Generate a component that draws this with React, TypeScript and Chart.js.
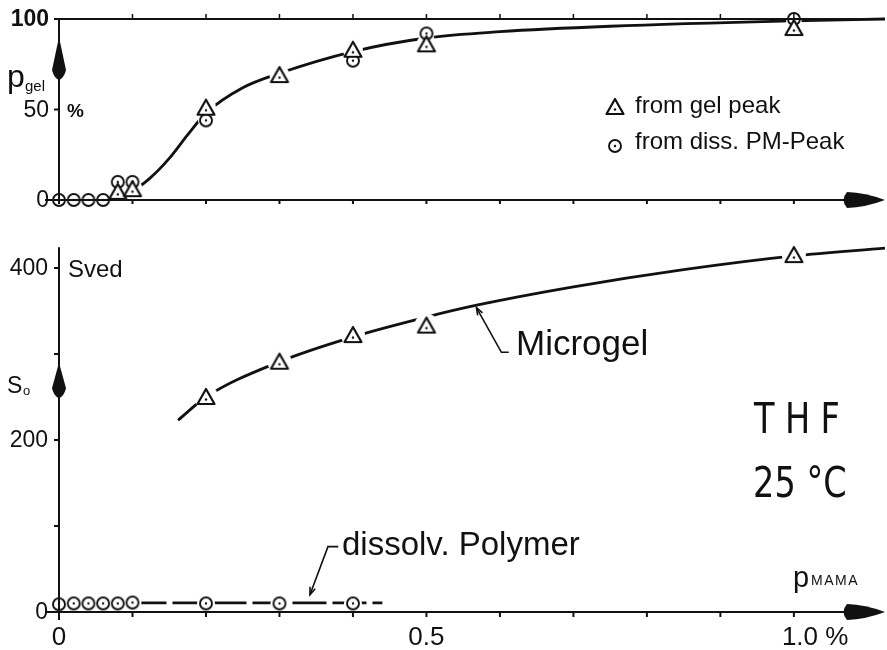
import React, { useEffect, useRef } from "react";
import { Chart, registerables } from "chart.js";
Chart.register(...registerables);

// ---- data (x = p_MAMA in %) ----
// upper panel: p_gel (%)
const gelPeakX = [0.08, 0.1, 0.2, 0.3, 0.4, 0.5, 1.0];
const gelPeakY = [4.5, 6, 51, 69, 83, 86, 95];
const pmPeakX = [0, 0.02, 0.04, 0.06, 0.08, 0.1, 0.2, 0.4, 0.5, 1.0];
const pmPeakY = [0, 0, 0, 0, 10, 10, 44, 77, 92, 100];
const gelCurveX = [0.065, 0.1, 0.125, 0.15, 0.175, 0.2, 0.25, 0.3, 0.4, 0.5, 0.6, 0.75, 1.0, 1.124];
const gelCurveY = [0, 5, 12.5, 23, 36, 48, 62, 70, 82, 89.5, 93, 96, 99, 100];

// lower panel: s_o (Sved)
const microgelX = [0.2, 0.3, 0.4, 0.5, 1.0];
const microgelY = [250, 291, 322, 333, 415];
const microgelCurveX = [0.162, 0.2, 0.3, 0.4, 0.5, 0.57, 0.7, 0.85, 1.0, 1.124];
const microgelCurveY = [223, 250, 291, 320, 343, 357, 378, 398, 414, 423];
const dissolvX = [0, 0.02, 0.04, 0.06, 0.08, 0.1, 0.2, 0.3, 0.4];
const dissolvY = [9, 10, 10, 10, 10, 11, 10, 10, 10];
const dissolvCurveX = [0.1, 0.2, 0.3, 0.4, 0.44];
const dissolvCurveY = [10.5, 10.5, 10.5, 10.5, 10.5];

// ticks
const topYTickVals = [0, 50, 100];
const topYTickLabels = ["0", "50", "100"];
const botYTickVals = [0, 200, 400];
const botYTickLabels = ["0", "200", "400"];
const botYMinorTicks = [100, 300];
const xMinorTicks = [0.1, 0.2, 0.3, 0.4, 0.5, 0.6, 0.7, 0.8, 0.9, 1.0];
const xTickVals = [0, 0.5, 1.0];
const xTickLabels = ["0", "0.5", "1.0 %"];

const FONT = '"Liberation Sans", Arial, sans-serif';
const INK = "#111";

const pts = (xs: number[], ys: number[]) => xs.map((x, i) => ({ x, y: ys[i] }));

function makeTriangle(): HTMLCanvasElement {
  const c = document.createElement("canvas");
  c.width = 24; c.height = 24;
  const g = c.getContext("2d")!;
  const cx = 12, cy = 13;
  g.beginPath();
  g.moveTo(cx, cy - 9);
  g.lineTo(cx + 8.5, cy + 6);
  g.lineTo(cx - 8.5, cy + 6);
  g.closePath();
  g.fillStyle = "#fff";
  g.fill();
  g.lineWidth = 2.2;
  g.lineJoin = "round";
  g.strokeStyle = INK;
  g.stroke();
  g.beginPath();
  g.arc(cx, cy + 1.5, 1.2, 0, Math.PI * 2);
  g.fillStyle = INK;
  g.fill();
  return c;
}
function makeCircle(): HTMLCanvasElement {
  const c = document.createElement("canvas");
  c.width = 18; c.height = 18;
  const g = c.getContext("2d")!;
  g.beginPath();
  g.arc(9, 9, 6, 0, Math.PI * 2);
  g.fillStyle = "#fff";
  g.fill();
  g.lineWidth = 1.9;
  g.strokeStyle = INK;
  g.stroke();
  g.beginPath();
  g.arc(9, 9, 1.2, 0, Math.PI * 2);
  g.fillStyle = INK;
  g.fill();
  return c;
}

// panel geometry (pixels)
const AREA_TOP = 10, AREA_BOTTOM = 612;
const TOP_ZERO_PX = 200, TOP_PX_PER_UNIT = 1.81;
const BOT_PX_PER_UNIT = 0.86;

const decor = {
  id: "decor",
  afterDatasetsDraw(chart: any) {
    const ctx: CanvasRenderingContext2D = chart.ctx;
    const xs = chart.scales.x, yt = chart.scales.yTop, yb = chart.scales.yBot;
    const X = (v: number) => xs.getPixelForValue(v);
    const YT = (v: number) => yt.getPixelForValue(v);
    const YB = (v: number) => yb.getPixelForValue(v);
    const x0 = X(0);
    const xEnd = xs.right;
    ctx.save();
    ctx.strokeStyle = INK;
    ctx.fillStyle = INK;
    ctx.lineCap = "butt";

    const line = (a: number, b: number, c: number, d: number, w = 2) => {
      ctx.lineWidth = w;
      ctx.beginPath(); ctx.moveTo(a, b); ctx.lineTo(c, d); ctx.stroke();
    };
    const arrowRight = (y: number) => {
      ctx.beginPath();
      ctx.moveTo(xEnd, y);
      ctx.quadraticCurveTo(xEnd - 20, y - 7.5, xEnd - 38, y - 8);
      ctx.quadraticCurveTo(xEnd - 45, y, xEnd - 38, y + 8);
      ctx.quadraticCurveTo(xEnd - 20, y + 7.5, xEnd, y);
      ctx.closePath();
      ctx.fill();
    };
    const arrowUp = (tip: number, base: number) => {
      ctx.beginPath();
      ctx.moveTo(x0, tip);
      ctx.lineTo(x0 + 7, base - 7);
      ctx.quadraticCurveTo(x0 + 5, base + 1, x0, base + 3);
      ctx.quadraticCurveTo(x0 - 5, base + 1, x0 - 7, base - 7);
      ctx.closePath();
      ctx.fill();
    };

    // ---- upper panel axes ----
    line(x0 - 4, YT(100), xEnd, YT(100), 2.2);
    line(x0, YT(100), x0, YT(0) + 4, 2);
    line(x0 - 14, YT(0), xEnd - 40, YT(0), 2.2);
    arrowRight(YT(0));
    arrowUp(YT(90), YT(68));
    for (const v of topYTickVals) line(x0 - 5, YT(v), x0, YT(v), 2);
    for (const v of xMinorTicks) {
      line(X(v), YT(0), X(v), YT(0) + 4, 2);
      line(X(v), YT(100), X(v), YT(100) - 5, 1.5);
    }

    // ---- lower panel axes ----
    line(x0, YB(424), x0, YB(0) + 8, 2);
    line(x0 - 14, YB(0), xEnd - 40, YB(0), 2.2);
    arrowRight(YB(0));
    arrowUp(YB(290), YB(252));
    for (const v of botYTickVals) line(x0 - 5, YB(v), x0, YB(v), 2);
    for (const v of botYMinorTicks) line(x0 - 5, YB(v), x0, YB(v), 2);
    for (const v of xMinorTicks) line(X(v), YB(0), X(v), YB(0) + 5, 2);

    // ---- tick labels ----
    ctx.textBaseline = "middle";
    ctx.textAlign = "right";
    topYTickVals.forEach((v, i) => {
      ctx.font = (v === 100 ? "bold " : "") + "23px " + FONT;
      ctx.fillText(topYTickLabels[i], x0 - 10, YT(v) + 1);
    });
    ctx.font = "23px " + FONT;
    botYTickVals.forEach((v, i) => ctx.fillText(botYTickLabels[i], x0 - 11, YB(v) + 1));
    ctx.textAlign = "center";
    ctx.font = "26px " + FONT;
    xTickVals.forEach((v, i) => {
      const lbl = xTickLabels[i];
      if (lbl.indexOf("%") >= 0) {
        ctx.textAlign = "left";
        ctx.fillText(lbl, X(v) - 12, YB(0) + 26);
        ctx.textAlign = "center";
      } else ctx.fillText(lbl, X(v), YB(0) + 26);
    });

    // ---- axis titles ----
    ctx.textAlign = "left";
    ctx.textBaseline = "alphabetic";
    ctx.font = "32px " + FONT;
    ctx.fillText("p", 7, 87);
    ctx.font = "15px " + FONT;
    ctx.fillText("gel", 25, 91);
    ctx.font = "bold 19px " + FONT;
    ctx.fillText("%", x0 + 8, YT(50) + 7);
    ctx.font = "24px " + FONT;
    ctx.fillText("Sved", x0 + 9, YB(400) + 9);
    ctx.font = "23px " + FONT;
    ctx.fillText("S", 7, 393);
    ctx.font = "13px " + FONT;
    ctx.fillText("o", 23, 395);
    ctx.font = "29px " + FONT;
    ctx.fillText("p", 793, 587);
    ctx.font = "14px " + FONT;
    (ctx as any).letterSpacing = "1.5px";
    ctx.fillText("MAMA", 811, 585);
    (ctx as any).letterSpacing = "0px";

    // ---- legend ----
    const tri = chart.data.datasets[0].pointStyle as HTMLCanvasElement;
    const cir = chart.data.datasets[1].pointStyle as HTMLCanvasElement;
    ctx.drawImage(tri, 615 - tri.width / 2, 107 - tri.height / 2);
    ctx.drawImage(cir, 615 - cir.width / 2, 146 - cir.height / 2);
    ctx.font = "24px " + FONT;
    ctx.fillText("from gel peak", 635, 113);
    ctx.fillText("from diss. PM-Peak", 635, 149);

    // ---- curve labels with leaders ----
    const leader = (tx: number, ty: number, cx: number, cy: number, ex: number) => {
      ctx.lineWidth = 1.6;
      ctx.beginPath();
      ctx.moveTo(tx, ty); ctx.lineTo(cx, cy); ctx.lineTo(ex, cy);
      ctx.stroke();
      const ang = Math.atan2(cy - ty, cx - tx);
      ctx.beginPath();
      ctx.moveTo(tx + 8 * Math.cos(ang - 0.35), ty + 8 * Math.sin(ang - 0.35));
      ctx.lineTo(tx, ty);
      ctx.lineTo(tx + 8 * Math.cos(ang + 0.35), ty + 8 * Math.sin(ang + 0.35));
      ctx.stroke();
    };
    leader(X(0.568), YB(354), X(0.602), YB(302), X(0.612));
    ctx.font = "35px " + FONT;
    ctx.fillText("Microgel", 516, 355);
    leader(X(0.3415), YB(20), X(0.366), YB(76), X(0.38));
    ctx.font = "33px " + FONT;
    ctx.fillText("dissolv. Polymer", 342, 555);

    // ---- solvent / temperature ----
    ctx.font = '42px "DejaVu Sans", sans-serif';
    const drawCond = (t: string, x: number, y: number, sp: number) => {
      ctx.save();
      ctx.translate(x, y);
      ctx.scale(0.8, 1);
      (ctx as any).letterSpacing = sp + "px";
      ctx.fillText(t, 0, 0);
      ctx.restore();
    };
    drawCond("THF", 754, 433, 13);
    drawCond("25 °C", 753, 497, 0);

    ctx.restore();
  },
};

export default function App() {
  const ref = useRef<HTMLCanvasElement>(null);
  useEffect(() => {
    const tri = makeTriangle();
    const cir = makeCircle();
    const topMin = -(AREA_BOTTOM - TOP_ZERO_PX) / TOP_PX_PER_UNIT;
    const topMax = (TOP_ZERO_PX - AREA_TOP) / TOP_PX_PER_UNIT;
    const botMax = (AREA_BOTTOM - AREA_TOP) / BOT_PX_PER_UNIT;
    const marker = (data: any[], style: any, axis: string) => ({
      data, yAxisID: axis, showLine: false, pointStyle: style,
      pointRadius: 8, pointHoverRadius: 8, order: 1, clip: false as any,
    });
    const halo = (data: any[], r: number, axis: string) => ({
      data, yAxisID: axis, showLine: false, pointStyle: "circle",
      pointRadius: r, pointHoverRadius: r, pointBackgroundColor: "#fff",
      pointBorderWidth: 0, pointBorderColor: "#fff", order: 2, clip: false as any,
    });
    const curve = (data: any[], axis: string, dash: number[] = []) => ({
      data, yAxisID: axis, showLine: true, pointRadius: 0, borderColor: INK,
      borderWidth: 2.8, borderDash: dash, cubicInterpolationMode: "monotone" as const,
      fill: false, order: 3, clip: false as any,
    });
    const chart = new Chart(ref.current!, {
      type: "scatter",
      data: {
        datasets: [
          marker(pts(gelPeakX, gelPeakY), tri, "yTop"),
          marker(pts(pmPeakX, pmPeakY), cir, "yTop"),
          marker(pts(microgelX, microgelY), tri, "yBot"),
          marker(pts(dissolvX, dissolvY), cir, "yBot"),
          halo(pts(gelPeakX, gelPeakY), 10, "yTop"),
          halo(pts(pmPeakX, pmPeakY), 8, "yTop"),
          halo(pts(microgelX, microgelY), 12, "yBot"),
          halo(pts(dissolvX, dissolvY), 9, "yBot"),
          curve(pts(gelCurveX, gelCurveY), "yTop"),
          curve(pts(microgelCurveX, microgelCurveY), "yBot"),
          curve(pts(dissolvCurveX, dissolvCurveY), "yBot", [34, 6]),
        ] as any,
      },
      options: {
        responsive: false,
        animation: false,
        devicePixelRatio: 1,
        layout: { autoPadding: false, padding: { left: 59, right: 2, top: AREA_TOP, bottom: 650 - AREA_BOTTOM } },
        plugins: { legend: { display: false }, tooltip: { enabled: false } },
        events: [],
        scales: {
          x: { type: "linear", min: 0, max: 1.124, display: false },
          yTop: { type: "linear", position: "left", min: topMin, max: topMax, display: false },
          yBot: { type: "linear", position: "left", min: 0, max: botMax, display: false },
        },
      },
      plugins: [decor],
    });
    return () => chart.destroy();
  }, []);
  return (
    <div style={{ position: "absolute", left: 0, top: 0, width: 887, height: 650, background: "#fff" }}>
      <canvas ref={ref} width={887} height={650} style={{ display: "block" }} />
    </div>
  );
}
